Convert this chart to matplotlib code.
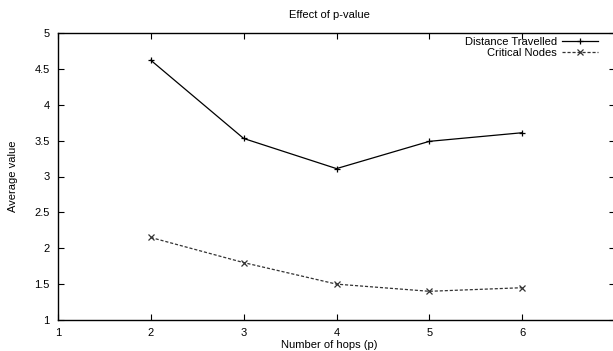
import matplotlib
matplotlib.use("Agg")
import matplotlib.pyplot as plt

# data
hops = [2, 3, 4, 5, 6]
distance_travelled = [4.62, 3.53, 3.11, 3.49, 3.61]
critical_nodes = [2.15, 1.80, 1.50, 1.40, 1.45]

x_ticks = [1, 2, 3, 4, 5, 6, 7]
y_ticks = [1, 1.5, 2, 2.5, 3, 3.5, 4, 4.5, 5]

plt.rcParams['font.family'] = ['Liberation Sans', 'DejaVu Sans']
plt.rcParams['font.size'] = 8

fig = plt.figure(figsize=(6.13, 3.51), dpi=100)
W, H = 613, 351
# axes box in pixels: left 58, right 615 (slightly past the edge), top 33, bottom 320
ax = fig.add_axes([58 / W, (H - 320) / H, (615 - 58) / W, (320 - 33) / H])

ax.plot(hops, distance_travelled, color='black', lw=0.9, marker='+',
        markersize=4.5, markeredgewidth=0.9, label='Distance Travelled')
ax.plot(hops, critical_nodes, color='#333333', lw=0.9, ls=(0, (2.5, 1.5)),
        marker='x', markersize=4.5, markeredgewidth=0.9, label='Critical Nodes')

ax.set_xlim(1, 7)
ax.set_ylim(1, 5)
ax.set_xticks(x_ticks)
ax.set_yticks(y_ticks)
ax.set_yticklabels(['1', '1.5', '2', '2.5', '3', '3.5', '4', '4.5', '5'])
ax.tick_params(direction='in', length=4, width=0.8, top=True, right=True,
               labelsize=8, pad=6, colors='black')
for s in ax.spines.values():
    s.set_linewidth(1.0)

# title and x label are centred a little left of the axes centre, as in gnuplot
fig.text(329 / W, 1 - 15 / H, 'Effect of p-value', ha='center', va='center', fontsize=8)
fig.text(329 / W, 1 - 345 / H, 'Number of hops (p)', ha='center', va='center', fontsize=8)
ax.set_ylabel('Average value', fontsize=8, labelpad=12)

ax.legend(loc='upper right', bbox_to_anchor=(598 / W, (H - 37) / H),
          bbox_transform=fig.transFigure, frameon=False, markerfirst=False,
          fontsize=8, handlelength=3.2, handletextpad=0.5, labelspacing=0.1,
          borderpad=0, borderaxespad=0)

fig.savefig('out.png', dpi=100)
